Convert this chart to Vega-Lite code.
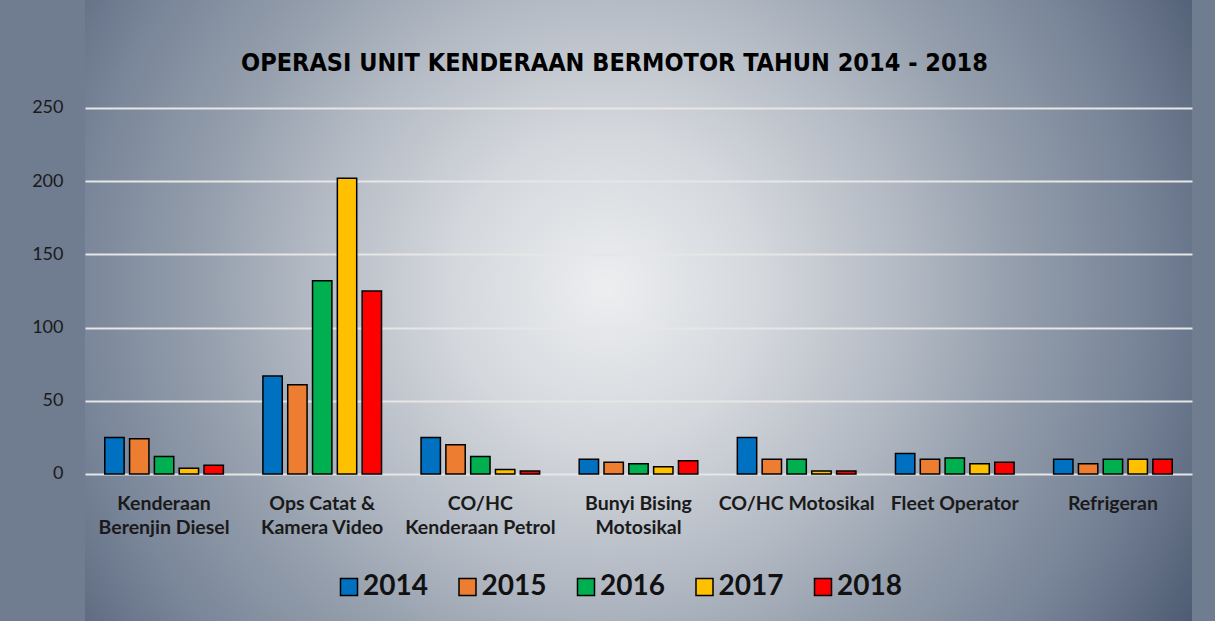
{
  "$schema": "https://vega.github.io/schema/vega-lite/v6.json",
  "width": 1107,
  "height": 621,
  "autosize": {"type": "none"},
  "padding": {"left": 85, "right": 23, "top": 0, "bottom": 0},
  "background": "#707c90",
  "title": {
    "text": "OPERASI UNIT KENDERAAN BERMOTOR TAHUN  2014 - 2018",
    "font": "'DejaVu Sans Condensed', Roboto, sans-serif",
    "fontSize": 25,
    "fontWeight": "bold",
    "color": "#000000",
    "anchor": "middle",
    "frame": "group",
    "baseline": "alphabetic",
    "offset": -68,
    "dx": -24,
    "dy": 28
  },
  "data": {
    "values": [
      {"category": "Kenderaan Berenjin Diesel", "year": "2014", "value": 25},
      {"category": "Kenderaan Berenjin Diesel", "year": "2015", "value": 24},
      {"category": "Kenderaan Berenjin Diesel", "year": "2016", "value": 12},
      {"category": "Kenderaan Berenjin Diesel", "year": "2017", "value": 4},
      {"category": "Kenderaan Berenjin Diesel", "year": "2018", "value": 6},
      {"category": "Ops Catat & Kamera Video", "year": "2014", "value": 67},
      {"category": "Ops Catat & Kamera Video", "year": "2015", "value": 61},
      {"category": "Ops Catat & Kamera Video", "year": "2016", "value": 132},
      {"category": "Ops Catat & Kamera Video", "year": "2017", "value": 202},
      {"category": "Ops Catat & Kamera Video", "year": "2018", "value": 125},
      {"category": "CO/HC Kenderaan Petrol", "year": "2014", "value": 25},
      {"category": "CO/HC Kenderaan Petrol", "year": "2015", "value": 20},
      {"category": "CO/HC Kenderaan Petrol", "year": "2016", "value": 12},
      {"category": "CO/HC Kenderaan Petrol", "year": "2017", "value": 3},
      {"category": "CO/HC Kenderaan Petrol", "year": "2018", "value": 2},
      {"category": "Bunyi Bising Motosikal", "year": "2014", "value": 10},
      {"category": "Bunyi Bising Motosikal", "year": "2015", "value": 8},
      {"category": "Bunyi Bising Motosikal", "year": "2016", "value": 7},
      {"category": "Bunyi Bising Motosikal", "year": "2017", "value": 5},
      {"category": "Bunyi Bising Motosikal", "year": "2018", "value": 9},
      {"category": "CO/HC Motosikal", "year": "2014", "value": 25},
      {"category": "CO/HC Motosikal", "year": "2015", "value": 10},
      {"category": "CO/HC Motosikal", "year": "2016", "value": 10},
      {"category": "CO/HC Motosikal", "year": "2017", "value": 2},
      {"category": "CO/HC Motosikal", "year": "2018", "value": 2},
      {"category": "Fleet Operator", "year": "2014", "value": 14},
      {"category": "Fleet Operator", "year": "2015", "value": 10},
      {"category": "Fleet Operator", "year": "2016", "value": 11},
      {"category": "Fleet Operator", "year": "2017", "value": 7},
      {"category": "Fleet Operator", "year": "2018", "value": 8},
      {"category": "Refrigeran", "year": "2014", "value": 10},
      {"category": "Refrigeran", "year": "2015", "value": 7},
      {"category": "Refrigeran", "year": "2016", "value": 10},
      {"category": "Refrigeran", "year": "2017", "value": 10},
      {"category": "Refrigeran", "year": "2018", "value": 10}
    ]
  },
  "mark": {"type": "bar", "stroke": "#000000", "strokeWidth": 1.5},
  "encoding": {
    "x": {
      "field": "category",
      "type": "nominal",
      "sort": ["Kenderaan Berenjin Diesel", "Ops Catat & Kamera Video", "CO/HC Kenderaan Petrol", "Bunyi Bising Motosikal", "CO/HC Motosikal", "Fleet Operator", "Refrigeran"],
      "scale": {"paddingInner": 0.25, "paddingOuter": 0.125},
      "title": null,
      "axis": {
        "orient": "bottom",
        "offset": -147,
        "domain": false,
        "ticks": false,
        "grid": false,
        "labelAngle": 0,
        "labelPadding": 20,
        "labelFont": "Lato",
        "labelFontSize": 19.5,
        "labelFontWeight": "bold",
        "labelColor": "#1a1a1a",
        "labelLineHeight": 24,
        "labelBaseline": "top",
        "labelExpr": "datum.value == 'Kenderaan Berenjin Diesel' ? ['Kenderaan', 'Berenjin Diesel'] : datum.value == 'Ops Catat & Kamera Video' ? ['Ops Catat &', 'Kamera Video'] : datum.value == 'CO/HC Kenderaan Petrol' ? ['CO/HC', 'Kenderaan Petrol'] : datum.value == 'Bunyi Bising Motosikal' ? ['Bunyi Bising', 'Motosikal'] : datum.value"
      }
    },
    "xOffset": {
      "field": "year",
      "type": "nominal",
      "scale": {"paddingInner": 0.22}
    },
    "y": {
      "field": "value",
      "type": "quantitative",
      "scale": {"domain": [-100.41, 323.77], "nice": false},
      "title": null,
      "axis": {
        "values": [0, 50, 100, 150, 200, 250],
        "domain": false,
        "ticks": false,
        "grid": true,
        "gridColor": "#e6e6e6",
        "gridWidth": 2,
        "labelPadding": 22,
        "labelFont": "Lato",
        "labelFontSize": 18,
        "labelColor": "#1a1a1a"
      }
    },
    "color": {
      "field": "year",
      "type": "nominal",
      "scale": {
        "domain": ["2014", "2015", "2016", "2017", "2018"],
        "range": ["#0070C0", "#ED7D31", "#00B050", "#FFC000", "#FF0000"]
      },
      "legend": {
        "orient": "none",
        "legendX": 250,
        "legendY": 573,
        "direction": "horizontal",
        "title": null,
        "symbolType": "square",
        "symbolSize": 289,
        "symbolStrokeColor": "#000000",
        "symbolStrokeWidth": 1.5,
        "symbolOpacity": 1,
        "labelFont": "Lato",
        "labelFontSize": 28,
        "labelFontWeight": "bold",
        "labelColor": "#111111",
        "labelOffset": 0,
        "columnPadding": 25.5,
        "labelLimit": 200
      }
    }
  },
  "config": {
    "view": {
      "stroke": null,
      "fill": {
        "gradient": "radial",
        "x1": 0.4716, "y1": 0.48, "r1": 0,
        "x2": 0.4716, "y2": 0.48, "r2": 0.614,
        "stops": [
          {"offset": 0, "color": "#eceef0"},
          {"offset": 0.23, "color": "#d4d7dc"},
          {"offset": 0.44, "color": "#b2b9c3"},
          {"offset": 0.6, "color": "#949eac"},
          {"offset": 0.765, "color": "#7b879a"},
          {"offset": 0.85, "color": "#6c788d"},
          {"offset": 1, "color": "#4b5a71"}
        ]
      }
    }
  }
}
